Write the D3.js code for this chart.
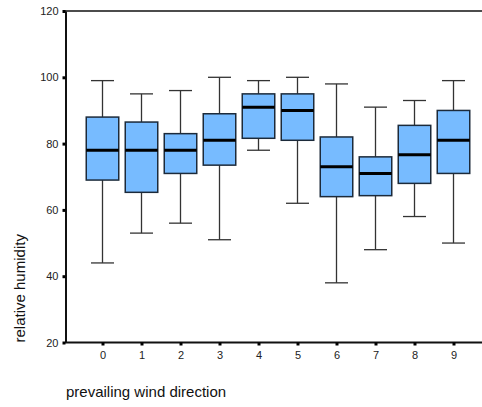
<!DOCTYPE html>
<html>
<head>
<meta charset="utf-8">
<script src="https://cdn.jsdelivr.net/npm/d3@7"></script>
<style>
  body { margin: 0; background: #fff; }
  svg { display: block; font-family: "Liberation Sans", Arial, sans-serif; }
</style>
</head>
<body>
<svg id="chart" width="482" height="407"></svg>
<script>
// Relative humidity by prevailing wind direction (box-and-whisker summary)
const directions = ["0", "1", "2", "3", "4", "5", "6", "7", "8", "9"];
const whiskerLow  = [44, 53, 56, 51, 78, 62, 38, 48, 58, 50];
const quartile1   = [69, 65.3, 71, 73.5, 81.6, 81, 64, 64.3, 68, 71];
const medians     = [78, 78, 78, 81, 91, 90, 73, 71, 76.6, 81];
const quartile3   = [88, 86.5, 83, 89, 95, 95, 82, 76, 85.5, 90];
const whiskerHigh = [99, 95, 96, 100, 99, 100, 98, 91, 93, 99];
const yTicks = [20, 40, 60, 80, 100, 120];

const svg = d3.select("#chart");
const W = 482;

const y = d3.scaleLinear().domain([20, 120]).range([342.5, 11]);
const x = d3.scalePoint().domain(directions).range([102.5, 453.5]);

const boxW = 32.5;
const capW = 23;

const rows = directions.map((d, i) => ({
  d, lo: whiskerLow[i], q1: quartile1[i], med: medians[i], q3: quartile3[i], hi: whiskerHigh[i]
}));

// frame lines: top border and baseline run to the right edge
svg.append("line")
  .attr("x1", x.range()[0] - 37.5).attr("x2", W)
  .attr("y1", y(120)).attr("y2", y(120))
  .attr("stroke", "#111").attr("stroke-width", 1.5);
svg.append("line")
  .attr("x1", x.range()[0] - 37.5).attr("x2", W)
  .attr("y1", y(20)).attr("y2", y(20))
  .attr("stroke", "#111").attr("stroke-width", 1.8);

const g = svg.selectAll("g.box").data(rows).join("g").attr("class", "box");

// whisker stems
g.append("line")
  .attr("x1", r => x(r.d)).attr("x2", r => x(r.d))
  .attr("y1", r => y(r.hi)).attr("y2", r => y(r.q3))
  .attr("stroke", "#333").attr("stroke-width", 1.3);
g.append("line")
  .attr("x1", r => x(r.d)).attr("x2", r => x(r.d))
  .attr("y1", r => y(r.q1)).attr("y2", r => y(r.lo))
  .attr("stroke", "#333").attr("stroke-width", 1.3);
// whisker caps
g.append("line")
  .attr("x1", r => x(r.d) - capW / 2).attr("x2", r => x(r.d) + capW / 2)
  .attr("y1", r => y(r.hi)).attr("y2", r => y(r.hi))
  .attr("stroke", "#333").attr("stroke-width", 1.3);
g.append("line")
  .attr("x1", r => x(r.d) - capW / 2).attr("x2", r => x(r.d) + capW / 2)
  .attr("y1", r => y(r.lo)).attr("y2", r => y(r.lo))
  .attr("stroke", "#333").attr("stroke-width", 1.3);
// interquartile boxes
g.append("rect")
  .attr("x", r => x(r.d) - boxW / 2)
  .attr("y", r => y(r.q3))
  .attr("width", boxW)
  .attr("height", r => y(r.q1) - y(r.q3))
  .attr("fill", "#77bbff")
  .attr("stroke", "#1c2a3a").attr("stroke-width", 1.5);
// medians
g.append("line")
  .attr("x1", r => x(r.d) - boxW / 2).attr("x2", r => x(r.d) + boxW / 2)
  .attr("y1", r => y(r.med)).attr("y2", r => y(r.med))
  .attr("stroke", "#000").attr("stroke-width", 3);

// y axis
const yAxis = svg.append("g")
  .attr("transform", "translate(65.5,0)")
  .call(d3.axisLeft(y).tickValues(yTicks).tickSize(3).tickPadding(4).tickSizeOuter(0));
yAxis.select(".domain").attr("stroke", "#111").attr("stroke-width", 2);
yAxis.selectAll(".tick line").attr("stroke", "#000").attr("stroke-width", 3);
yAxis.selectAll(".tick text")
  .attr("font-size", 11).attr("fill", "#222")
  .attr("font-family", "'Liberation Sans', Arial, sans-serif");

// x axis
const xAxis = svg.append("g")
  .attr("transform", `translate(0,${y(20)})`)
  .call(d3.axisBottom(x).tickSize(3).tickPadding(6));
xAxis.select(".domain").remove();
xAxis.selectAll(".tick line").attr("stroke", "#000").attr("stroke-width", 3);
xAxis.selectAll(".tick text")
  .attr("font-size", 11).attr("fill", "#222")
  .attr("font-family", "'Liberation Sans', Arial, sans-serif");

// axis titles
svg.append("text")
  .attr("transform", `translate(25,${y(20)}) rotate(-90)`)
  .attr("text-anchor", "start")
  .attr("font-size", 15).attr("fill", "#111")
  .text("relative humidity");
svg.append("text")
  .attr("x", 66).attr("y", 397)
  .attr("font-size", 15).attr("fill", "#111")
  .text("prevailing wind direction");
</script>
</body>
</html>
